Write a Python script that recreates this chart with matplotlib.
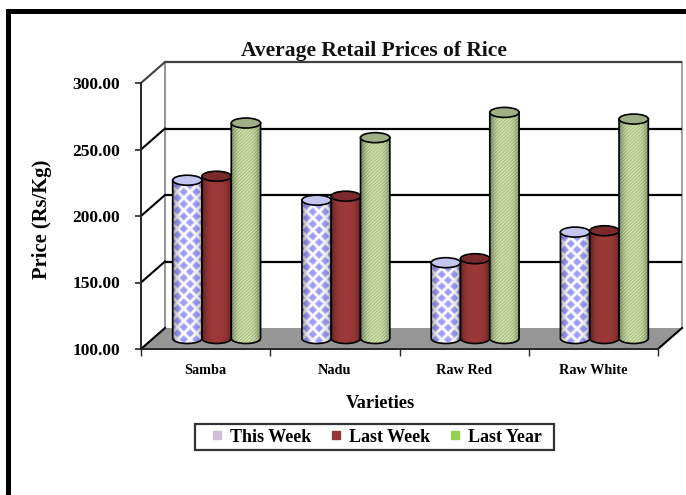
import numpy as np
import matplotlib
matplotlib.use("Agg")
import matplotlib.pyplot as plt
from matplotlib.patches import Rectangle, Ellipse, Polygon, PathPatch
from matplotlib.path import Path
from matplotlib.lines import Line2D

categories = ["Samba", "Nadu", "Raw Red", "Raw White"]
this_week = [219, 204, 157, 180]
last_week = [222, 207, 160, 181]
last_year = [262, 251, 270, 265]
series_names = ["This Week", "Last Week", "Last Year"]
swatch_colors = ["#CCC0DA", "#953735", "#92D050"]
y_ticks = [100, 150, 200, 250, 300]

plt.rcParams["font.family"] = ["Liberation Serif", "DejaVu Serif"]
plt.rcParams["font.weight"] = "bold"

W, H = 686, 495
fig = plt.figure(figsize=(W / 100, H / 100), dpi=100, facecolor="white")
L, R, T, B = 141, 658, 83, 349
ax = fig.add_axes([L / W, 1 - B / H, (R - L) / W, (B - T) / H])
ax.set_facecolor("none")
ax.set_xlim(0, 4)
ax.set_ylim(100, 300)

ux = 4 / (R - L)          # data units per pixel
uy = 200 / (B - T)
dx, dy = 24 * ux, 21 * uy  # depth of the 3-D box

# page frame
fig.add_artist(Rectangle((6 / W, 1 - 14 / H), 1, 5 / H, transform=fig.transFigure, color="black", lw=0))
fig.add_artist(Rectangle((6 / W, 0), 5 / W, 1 - 9 / H, transform=fig.transFigure, color="black", lw=0))

# floor and walls
ax.add_patch(Polygon([(0, 100), (4, 100), (4 + dx, 100 + dy), (dx, 100 + dy)], closed=True,
                     facecolor="#969696", edgecolor="none", clip_on=False, zorder=1))
for v in y_ticks:
    c, lw = ("#404040", 1.6) if v == 300 else ("black", 1.6)
    if v > 100:
        ax.plot([dx, 4 + dx], [v + dy, v + dy], color=c, lw=lw, clip_on=False, zorder=1.5, solid_capstyle="butt")
    ax.plot([0, dx], [v, v + dy], color=c, lw=1.5, clip_on=False, zorder=1.5)
ax.plot([dx, dx], [100 + dy, 300 + dy], color="#8c8c8c", lw=1.3, clip_on=False, zorder=1.4)
ax.plot([4 + dx, 4 + dx], [100 + dy, 300 + dy], color="#a6a6a6", lw=1.5, clip_on=False, zorder=1.4)
ax.plot([4, 4 + dx], [100, 100 + dy], color="black", lw=1.5, clip_on=False, zorder=1.5)


def shade(n):
    t = np.linspace(-1, 1, n)
    return 1 - 0.38 * np.abs(t) ** 3.2


def texture(kind, w, h):
    yy, xx = np.mgrid[0:h, 0:w].astype(float)
    if kind == 0:
        px, py = 12.0, 12.6
        a = np.abs(((xx + 2) % px) - px / 2) / (px / 2) + np.abs((yy % py) - py / 2) / (py / 2)
        b = np.abs(((xx + 2 + px / 2) % px) - px / 2) / (px / 2) + np.abs(((yy + py / 2) % py) - py / 2) / (py / 2)
        m = np.clip((np.minimum(a, b) - 0.58) * 6, 0, 1)[..., None]
        img = m * np.array([1, 1, 1.0]) + (1 - m) * np.array([0.62, 0.62, 1.0])
    elif kind == 1:
        img = np.ones((h, w, 3)) * np.array([0.61, 0.22, 0.22])
    else:
        s = 0.5 + 0.5 * np.sin((xx + yy) * 2 * np.pi / 3.4)
        s = s[..., None]
        img = s * np.array([0.91, 0.95, 0.80]) + (1 - s) * np.array([0.60, 0.71, 0.42])
    sh = shade(w)[None, :, None]
    return np.clip(img * sh, 0, 1)


top_colors = ["#C4C6F2", "#7A2A2A", "#9FAE84"]
cyl_w = 29.3 * ux
cyl_h = 10 * uy
off_x = 11 * ux
off_y = 10.5 * uy
gap = 29.3 * ux
values = [this_week, last_week, last_year]

for i, cat in enumerate(categories):
    for s, vals in enumerate(values):
        cx = i + 0.5 + off_x + (s - 1) * gap
        y0 = 100 + off_y
        y1 = vals[i] + off_y
        x0, x1 = cx - cyl_w / 2, cx + cyl_w / 2
        k = 0.5523
        hh = cyl_h / 2
        verts = [(x0, y1), (x0, y0),
                 (x0, y0 - k * hh), (cx - k * cyl_w / 2, y0 - hh), (cx, y0 - hh),
                 (cx + k * cyl_w / 2, y0 - hh), (x1, y0 - k * hh), (x1, y0),
                 (x1, y1), (x0, y1)]
        codes = [Path.MOVETO, Path.LINETO, Path.CURVE4, Path.CURVE4, Path.CURVE4,
                 Path.CURVE4, Path.CURVE4, Path.CURVE4, Path.LINETO, Path.CLOSEPOLY]
        body = PathPatch(Path(verts, codes), facecolor="none", edgecolor="black", lw=1.2,
                         clip_on=False, zorder=3 + i + s * 0.1 + 0.02)
        fill = PathPatch(Path(verts, codes), transform=ax.transData, facecolor="none", edgecolor="none")
        ax.add_patch(fill)
        wpx = int(round(cyl_w / ux))
        hpx = int(round((y1 - y0 + cyl_h) / uy))
        im = ax.imshow(texture(s, wpx, hpx), extent=[x0, x1, y0 - hh, y1], aspect="auto",
                       interpolation="bilinear", zorder=3 + i + s * 0.1, clip_on=True)
        im.set_clip_path(fill)
        ax.add_patch(body)
        ax.add_patch(Ellipse((cx, y1), cyl_w, cyl_h, facecolor=top_colors[s], edgecolor="black",
                             lw=1.2, clip_on=False, zorder=3 + i + s * 0.1 + 0.04))
ax.set_xlim(0, 4)
ax.set_ylim(100, 300)

for sp in ("top", "right"):
    ax.spines[sp].set_visible(False)
for sp in ("left", "bottom"):
    ax.spines[sp].set_linewidth(1.4)
    ax.spines[sp].set_color("#262626")
    ax.spines[sp].set_zorder(2)

ax.set_yticks(y_ticks)
ax.set_yticklabels([f"{v:.2f}" for v in y_ticks], fontsize=12.6, fontweight="bold")
ax.tick_params(axis="y", length=4, width=1.2, pad=11, color="#262626")
ax.set_xticks(range(5))
ax.set_xticklabels([])
ax.tick_params(axis="x", length=5, width=1.0, color="#262626")
ax.set_xticks([i + 0.5 for i in range(4)], minor=True)
ax.set_xticklabels(categories, minor=True, fontsize=10.3, fontweight="bold")
ax.tick_params(axis="x", which="minor", length=0, pad=11)

fig.text(374 / W, 1 - 51 / H, "Average Retail Prices of Rice", ha="center", va="center", fontsize=15.5,
         fontweight="bold", color="#111111")
fig.text(380 / W, 1 - 403.5 / H, "Varieties", ha="center", va="center", fontsize=13.2, fontweight="bold")
fig.text(42.5 / W, 1 - 219 / H, "Price (Rs/Kg)", ha="center", va="center", rotation=90, fontsize=14.8,
         fontweight="bold")

fig.add_artist(Rectangle((195 / W, 1 - 450 / H), 359 / W, 26 / H, transform=fig.transFigure,
                         facecolor="white", edgecolor="#333333", lw=1.6))
handles = [Line2D([], [], linestyle="none", marker="s", markersize=5.5, color=c) for c in swatch_colors]
leg = fig.legend(handles, series_names, loc="center", bbox_to_anchor=(376 / W, 1 - 437 / H), ncols=3,
                 fontsize=13, frameon=False, handlelength=0.8, handletextpad=0.3, columnspacing=1.0,
                 borderpad=0, borderaxespad=0)

fig.savefig("out.png", dpi=100)
